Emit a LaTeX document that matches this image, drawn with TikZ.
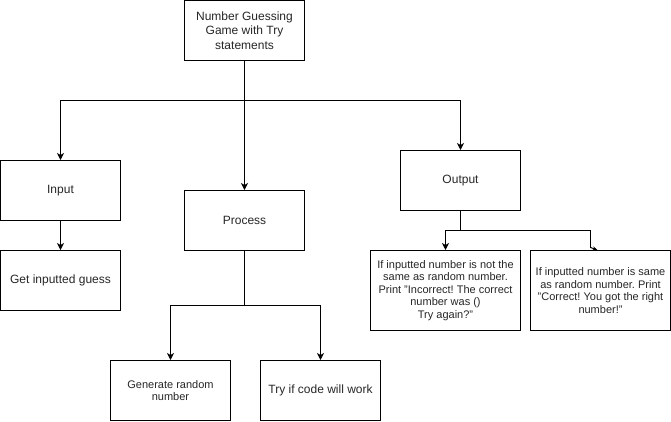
\documentclass[tikz,border=0pt]{standalone}
\usepackage{fontspec}
\setmainfont{Liberation Sans}
\usetikzlibrary{arrows.meta}
\begin{document}
\frenchspacing
\begin{tikzpicture}[x=1pt,y=-1pt,
  box/.style={draw=black, line width=1pt, rectangle, minimum width=120pt, minimum height=60pt, inner sep=0pt, align=center, text=black!85, font=\fontsize{12}{14.4}\selectfont},
  smallbox/.style={box, font=\fontsize{11}{12.6}\selectfont},
  conn/.style={draw=black, line width=1pt},
  arr/.style={conn, -{Stealth[length=7pt,width=7pt,inset=2pt]}},
  arrsmall/.style={conn, -{Stealth[length=5pt,width=4pt,inset=1.5pt]}}]
\useasboundingbox (-0.5,-0.5) rectangle (670.5,420.5);
\node[box] (title) at (244,30) {Number Guessing\\Game with Try\\statements};
\node[box] (input) at (60,190) {Input};
\node[box] (get) at (60,280) {Get inputted guess};
\node[box] (process) at (244,220) {Process};
\node[box] (output) at (460,180) {Output};
\node[smallbox, minimum width=150pt, minimum height=80pt] (wrong) at (445,290) {If inputted number is not the\\same as random number.\\Print "Incorrect! The correct\\number was ()\\Try again?"};
\node[smallbox, minimum width=140pt, minimum height=80pt] (right) at (600,290) {If inputted number is same\\as random number. Print\\"Correct! You got the right\\number!"};
\node[smallbox] (gen) at (170,390) {Generate random\\number};
\node[box] (try) at (320,390) {Try if code will work};
\coordinate (tsplit) at (244,100);
\draw[conn] (title.south) -- (tsplit);
\draw[arr] (tsplit) -| (input.north);
\draw[arr] (tsplit) -- (process.north);
\draw[arr] (tsplit) -| (output.north);
\draw[arr] (input.south) -- (get.north);
\coordinate (psplit) at (244,305);
\draw[conn] (process.south) -- (psplit);
\draw[arr] (psplit) -| (gen.north);
\draw[arr] (psplit) -| (try.north);
\coordinate (osplit) at (460,230);
\draw[conn] (output.south) -- (osplit);
\draw[arr] (osplit) -| (wrong.north);
\coordinate (rbend) at (590,247);
\coordinate (rtip) at (597,249.5);
\draw[conn] (osplit) -| (rbend);
\draw[arrsmall] (rbend) -- (rtip);
\end{tikzpicture}
\end{document}
